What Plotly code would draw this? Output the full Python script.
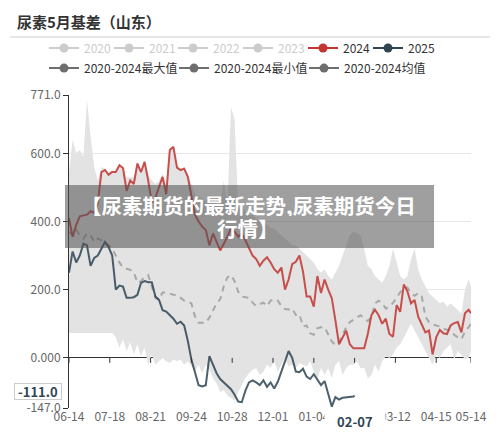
import pandas as pd
import plotly.graph_objects as go

# daily category axis (MM-DD), leap year so 02-29 exists
days = pd.date_range("2023-06-14", "2024-05-14", freq="D")
sample_idx = list(range(0, 334, 3)) + [335]
idx_2025 = list(range(0, 238, 3)) + [238]
tick_idx = [0, 34, 68, 102, 136, 170, 204, 238, 272, 306, 335]
pointer_idx = 238

val_2024 = [410, 355, 390, 415, 418, 420, 430, 425, 455, 545,
            551, 537, 545, 545, 565, 557, 490, 520, 510, 570,
            545, 575, 520, 455, 470, 500, 531, 480, 610, 619,
            558, 551, 555, 531, 470, 420, 400, 385, 375, 330,
            365, 340, 315, 335, 355, 380, 370, 355, 365, 345,
            320, 300, 290, 270, 285, 295, 280, 260, 250, 265,
            200, 230, 275, 282, 300, 253, 180, 180, 150, 240,
            190, 230, 200, 175, 110, 40, 60, 80, 40, 28,
            28, 28, 28, 70, 125, 141, 125, 100, 115, 70,
            62, 155, 135, 215, 195, 160, 170, 121, 100, 75,
            80, 10, 60, 82, 72, 70, 95, 102, 105, 75,
            131, 141, 131]

val_2025 = [250, 312, 280, 300, 335, 330, 270, 293, 300, 320,
            340, 325, 300, 200, 212, 209, 176, 176, 178, 185,
            220, 225, 222, 222, 180, 170, 140, 136, 126, 115,
            100, 106, 95, 50, -5, -45, -80, -84, -80, 5,
            -20, -45, -62, -72, -82, -92, -108, -128, -130, -96,
            -72, -66, -72, -80, -66, -85, -72, -90, -70, -40,
            -6, 20, 0, -40, -42, -32, -55, -62, -48, -65,
            -80, -68, -110, -143, -115, -122, -117, -116, -116, -113,
            -111]

val_mean = [370, 360, 375, 360, 350, 365, 360, 340, 350, 345,
            340, 330, 320, 300, 280, 265, 262, 258, 252, 220,
            225, 238, 243, 210, 175, 172, 192, 192, 188, 185,
            184, 175, 168, 164, 160, 121, 103, 103, 103, 118,
            140, 160, 172, 210, 236, 243, 225, 194, 180, 178,
            176, 162, 152, 158, 162, 152, 168, 172, 168, 152,
            143, 142, 145, 126, 128, 92, 95, 72, 68, 87,
            90, 90, 67, 48, 38, 45, 67, 90, 105, 111,
            118, 125, 115, 108, 120, 160, 168, 161, 145, 150,
            161, 178, 192, 205, 206, 190, 182, 190, 180, 121,
            105, 98, 95, 92, 85, 82, 80, 68, 60, 55,
            77, 90, 100]

val_max = [545, 640, 600, 610, 590, 757, 650, 560, 520, 560,
           555, 545, 550, 545, 570, 560, 530, 530, 530, 575,
           550, 580, 540, 520, 510, 520, 540, 510, 615, 620,
           565, 555, 560, 540, 510, 480, 470, 470, 460, 470,
           460, 450, 450, 520, 450, 735, 700, 440, 440, 430,
           420, 420, 410, 400, 400, 390, 380, 380, 370, 360,
           350, 340, 330, 330, 320, 310, 300, 290, 280, 260,
           250, 260, 240, 230, 250, 270, 300, 330, 360, 370,
           366, 360, 320, 270, 260, 240, 230, 220, 240, 270,
           320, 280, 240, 230, 240, 290, 320, 260, 230, 210,
           190, 180, 170, 160, 165, 150, 160, 150, 140, 130,
           200, 230, 210]

val_min = [73, 73, 73, 73, 73, 73, 73, 73, 73, 73,
           73, 73, 73, 60, 30, 55, 20, 45, 10, 40,
           5, 30, -20, 10, -20, -10, 0, -10, -15, -5,
           -10, -5, -20, -10, -25, -40, -20, -45, -20, -35,
           -60, -75, -100, -95, -110, -118, -125, -100, -80, -60,
           -45, -35, -30, -50, -40, -20, -30, -10, -40, -20,
           0, -25, -20, -30, -15, -20, -25, -10, -40, -60,
           -30, -50, -30, -60, -20, -10, -50, -30, -20, -20,
           -10, -30, -30, -60, -50, -20, -40, -10, 5, 0,
           10, 30, 40, 60, 80, 100, 80, 60, 40, 20,
           0, -20, 10, 0, 20, 30, 40, -5, 20, 10,
           -5, 0, 20]

y_ticks = [771, 600, 400, 200, 0, -147]
y_text = ["771.0", "600.0", "400.0", "200.0", "0.000", "-147.0"]

# first legend row: name, colour, text colour, legend x
legend_row1 = [("2020", "#cccccc", "#cccccc", -0.0622),
               ("2021", "#cccccc", "#cccccc", 0.0995),
               ("2022", "#cccccc", "#cccccc", 0.2587),
               ("2023", "#cccccc", "#cccccc", 0.4204),
               ("2024", "#c23531", "#333333", 0.5821),
               ("2025", "#2f4554", "#333333", 0.7438)]
legend_row2 = ["2020-2024最大值", "2020-2024最小值", "2020-2024均值"]

FONT = "Noto Sans CJK SC"

x_s = days[sample_idx]
x_25 = days[idx_2025]

fig = go.Figure()
fig.add_trace(go.Scatter(x=x_s, y=val_min, mode="lines", line=dict(width=0, color="rgba(0,0,0,0)"),
                         showlegend=False, hoverinfo="skip"))
fig.add_trace(go.Scatter(x=x_s, y=val_max, mode="lines", line=dict(width=0, color="rgba(0,0,0,0)"),
                         fill="tonexty", fillcolor="#e3e3e3", showlegend=False, hoverinfo="skip"))
fig.add_trace(go.Scatter(x=x_s, y=val_mean, mode="lines", line=dict(width=2, color="#a8a8a8", dash="6px,5px"),
                         showlegend=False))
fig.add_trace(go.Scatter(x=x_s, y=val_2024, mode="lines", line=dict(width=2, color="#c23531"),
                         opacity=0.85, showlegend=False))
fig.add_trace(go.Scatter(x=x_25, y=val_2025, mode="lines", line=dict(width=2, color="#2f4554"),
                         opacity=0.85, showlegend=False))

leg_common = dict(orientation="h", yanchor="middle", xanchor="left", bgcolor="rgba(0,0,0,0)",
                  itemwidth=30, tracegroupgap=0, traceorder="normal")
legends = {}
# legend entries (icons as in the source chart), one legend per entry in row 1
for k, (name, col, txt, lx) in enumerate(legend_row1):
    lid = "legend" if k == 0 else f"legend{k + 1}"
    fig.add_trace(go.Scatter(x=[None], y=[None], mode="lines+markers", name=name, legend=lid,
                             line=dict(color=col, width=2), marker=dict(size=9, color=col)))
    legends[lid] = dict(x=lx, y=1.150, font=dict(color=txt, size=12, family=FONT), **leg_common)
for name in legend_row2:
    fig.add_trace(go.Scatter(x=[None], y=[None], mode="lines+markers", name=name, legend="legend7",
                             line=dict(color="#6e6e6e", width=2), marker=dict(size=9, color="#6e6e6e")))
legends["legend7"] = dict(x=-0.0622, y=1.086, entrywidth=85, font=dict(color="#333333", size=12, family=FONT),
                          **leg_common)

# x ticks sit on the zero line
for i in tick_idx:
    fig.add_shape(type="line", xref="x", yref="y", x0=days[i], x1=days[i], y0=0, y1=-5,
                  ysizemode="pixel", yanchor=0, line=dict(color="#333333", width=1))

fig.add_shape(type="line", xref="paper", yref="paper", x0=-0.1468, x1=1.0473, y0=1.1853, y1=1.1853,
              line=dict(color="#cccccc", width=1))
# grey banner over the chart
fig.add_shape(type="rect", xref="paper", yref="paper", x0=-0.00995, x1=0.908, y0=0.511, y1=0.7125,
              fillcolor="rgba(80,80,80,0.55)", line=dict(width=0), layer="above")

# the pointer label replaces the plain 02-07 tick label
tick_text = ["" if i == pointer_idx else days[i].strftime("%m-%d") for i in tick_idx]

# page body adds 8px, so margins are shifted by 8px
fig.update_layout(
    width=500, height=433,
    margin=dict(l=61, r=37, t=87, b=33, autoexpand=False),
    paper_bgcolor="white", plot_bgcolor="white",
    font=dict(family=FONT, size=12, color="#333333"),
    xaxis=dict(type="date", range=[days[0], days[-1]], tickvals=days[tick_idx],
               ticktext=tick_text, showgrid=False, ticks="",
               tickfont=dict(color="#666666", size=12), zeroline=False, showline=False),
    yaxis=dict(range=[-147, 771], tickvals=y_ticks, ticktext=y_text, showgrid=True, gridcolor="#e6e6e6",
               zeroline=True, zerolinecolor="#333333", zerolinewidth=1, showline=True, linecolor="#333333",
               ticks="outside", ticklen=5, tickcolor="#333333", tickfont=dict(color="#666666", size=12),
               layer="above traces"),
    **legends,
)

fig.add_annotation(x=-0.1343, y=1.2364, xref="paper", yref="paper", xanchor="left", yanchor="middle",
                   text="<b>尿素5月基差（山东）</b>", showarrow=False,
                   font=dict(family=FONT, size=15, color="#333333"))
fig.add_annotation(x=-0.0771, y=0.0543, xref="paper", yref="paper", xanchor="center", yanchor="middle",
                   text="<b>%.1f</b>" % val_2025[-1], showarrow=False,
                   font=dict(family=FONT, size=13, color="#2f4554"), bgcolor="white",
                   bordercolor="#cccccc", borderwidth=1, borderpad=0, width=46, height=15)
fig.add_annotation(x=0.7114, y=-0.0415, xref="paper", yref="paper", xanchor="center", yanchor="middle",
                   text="<b>%s</b>" % days[pointer_idx].strftime("%m-%d"), showarrow=False,
                   font=dict(family=FONT, size=13, color="#2f4554"), bgcolor="white", width=58, height=16)
fig.add_annotation(x=0.4465, y=0.6486, xref="paper", yref="paper", xanchor="center", yanchor="middle",
                   text="<b>【尿素期货的最新走势,尿素期货今日</b>", showarrow=False, height=22,
                   font=dict(family=FONT, size=20.5, color="white"))
fig.add_annotation(x=0.4465, y=0.5751, xref="paper", yref="paper", xanchor="center", yanchor="middle",
                   text="<b>行情】</b>", showarrow=False, height=22,
                   font=dict(family=FONT, size=20.5, color="white"))

fig.write_html("out.html")
